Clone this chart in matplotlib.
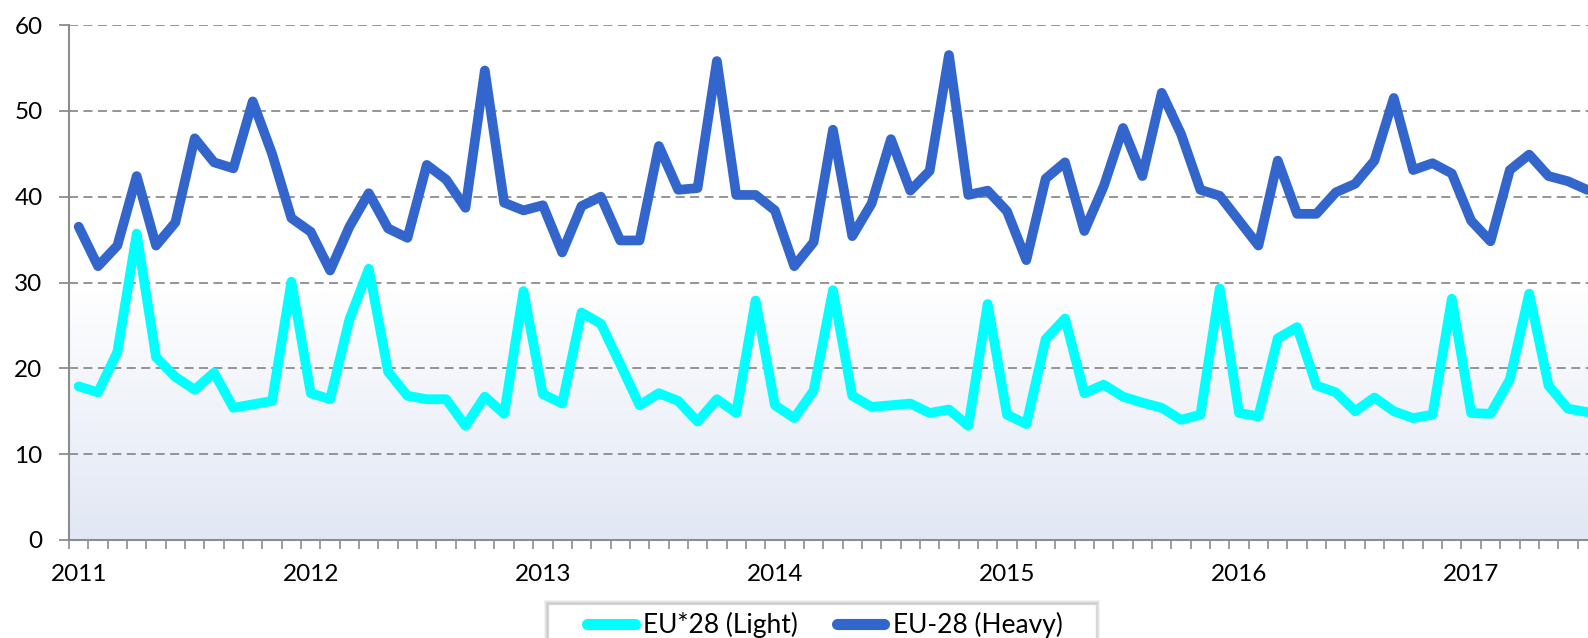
import numpy as np
import matplotlib
matplotlib.use('Agg')
import matplotlib.pyplot as plt
from matplotlib.lines import Line2D
from matplotlib.patches import Rectangle

# Monthly values, Jan 2011 .. Jul 2017
light = [17.9, 17.2, 21.9, 35.7, 21.3, 19.0, 17.5, 19.5, 15.4, 15.8, 16.2, 30.1,
         17.1, 16.4, 25.7, 31.6, 19.6, 16.8, 16.4, 16.4, 13.3, 16.7, 14.7, 29.0,
         17.0, 15.9, 26.5, 25.2, 20.5, 15.7, 17.1, 16.2, 13.8, 16.4, 14.8, 27.9,
         15.7, 14.2, 17.4, 29.1, 16.8, 15.5, 15.7, 15.9, 14.8, 15.2, 13.3, 27.5,
         14.6, 13.5, 23.4, 25.8, 17.1, 18.1, 16.7, 16.0, 15.4, 14.0, 14.6, 29.3,
         14.8, 14.4, 23.5, 24.8, 18.0, 17.2, 15.0, 16.6, 15.0, 14.2, 14.6, 28.1,
         14.8, 14.7, 18.7, 28.7, 18.0, 15.3, 14.9]
heavy = [36.5, 31.9, 34.3, 42.4, 34.3, 37.0, 46.8, 44.0, 43.3, 51.1, 45.0, 37.5,
         35.9, 31.4, 36.5, 40.4, 36.3, 35.2, 43.7, 42.0, 38.7, 54.7, 39.3, 38.4,
         39.0, 33.5, 38.9, 40.0, 34.9, 34.9, 45.9, 40.8, 41.0, 55.8, 40.2, 40.2,
         38.4, 31.9, 34.7, 47.8, 35.4, 39.2, 46.7, 40.7, 43.0, 56.5, 40.2, 40.7,
         38.3, 32.6, 42.1, 44.0, 36.0, 41.2, 48.0, 42.4, 52.1, 47.3, 40.8, 40.1,
         37.2, 34.3, 44.2, 38.0, 38.0, 40.5, 41.5, 44.2, 51.5, 43.1, 43.9, 42.7,
         37.2, 34.8, 43.1, 44.9, 42.4, 41.8, 40.8]
years = ['2011', '2012', '2013', '2014', '2015', '2016', '2017']
series_names = ['EU*28 (Light)', 'EU-28 (Heavy)']
colors = ['#00FFFF', '#3366CC']

W, H = 1588, 638
fig = plt.figure(figsize=(W / 100, H / 100), dpi=100)
left_px, right_px, top_px, bot_px = 69, 1588, 25, 540
ax = fig.add_axes([left_px / W, 1 - bot_px / H, (right_px - left_px) / W, (bot_px - top_px) / H])

n = len(light)
x = np.arange(n)
x_right = -0.5 + (right_px - left_px) / 19.34

ax.yaxis.grid(True, linestyle=(0, (5, 3)), color='#8C8C8C', linewidth=1.3, zorder=1)
ax.set_axisbelow(True)

lw = 7
ax.plot(x, light, color=colors[0], lw=lw, solid_joinstyle='round', solid_capstyle='round', zorder=3)
ax.plot(x, heavy, color=colors[1], lw=lw, solid_joinstyle='round', solid_capstyle='round', zorder=3)

for s in ['top', 'right']:
    ax.spines[s].set_visible(False)
for s in ['left', 'bottom']:
    ax.spines[s].set_color('#8C8C8C')
    ax.spines[s].set_linewidth(1.5)

ax.set_yticks(np.arange(0, 61, 10))
ax.tick_params(axis='y', length=7, color='#8C8C8C', width=1.3, labelsize=17.5, pad=12)
ax.set_xticks(np.arange(0, 12 * len(years), 12))
ax.set_xticklabels(years)
ax.set_xticks(np.arange(-0.5, n + 1, 1), minor=True)
ax.tick_params(axis='x', which='major', length=0, labelsize=17.5, pad=17.5)
ax.tick_params(axis='x', which='minor', length=6.3, color='#8C8C8C', width=1.2)
for lab in ax.get_xticklabels() + ax.get_yticklabels():
    lab.set_fontfamily('Lato')

ax.set_xlim(-0.5, x_right)
ax.set_ylim(0, 60)

# plot-area gradient
t = np.linspace(0, 1, 256)[:, None]
bottom_c = np.array([225, 231, 244]) / 255.0
frac = np.clip(t / 0.5, 0, 1)
grad = bottom_c[None, None, :] * (1 - frac[..., None]) + np.ones(3)[None, None, :] * frac[..., None]
grad = np.repeat(grad, 2, axis=1)
ax.imshow(grad, extent=[-0.5, x_right, 0, 60], origin='lower', aspect='auto', zorder=0,
          interpolation='bilinear')
ax.set_xlim(-0.5, x_right)
ax.set_ylim(0, 60)

# legend frame with soft shadow
bx0, bx1, by0 = 548, 1096, 604
for k, a in enumerate([0.05, 0.05, 0.06, 0.07]):
    off = 4 - k
    fig.patches.append(Rectangle(((bx0 - off) / W, -0.1), (bx1 - bx0 + 2 * off) / W,
                                 1.1 - (by0 - off) / H, transform=fig.transFigure,
                                 facecolor='black', edgecolor='none', alpha=a, zorder=1))
fig.patches.append(Rectangle((bx0 / W, -0.1), (bx1 - bx0) / W, 1.1 - by0 / H,
                             transform=fig.transFigure, facecolor='white',
                             edgecolor='#D9D9D9', linewidth=1.0, zorder=2))

handles = [Line2D([0], [0], color=c, lw=8, solid_capstyle='round') for c in colors]
leg = fig.legend(handles, series_names, loc='center left', bbox_to_anchor=(587 / W, 1 - 625 / H),
                 ncol=2, frameon=False, prop={'family': 'Lato', 'size': 19},
                 handlelength=1.8, handletextpad=0.34, columnspacing=1.45,
                 borderpad=0, borderaxespad=0)
leg.set_zorder(5)

fig.savefig('out.png', dpi=100)
